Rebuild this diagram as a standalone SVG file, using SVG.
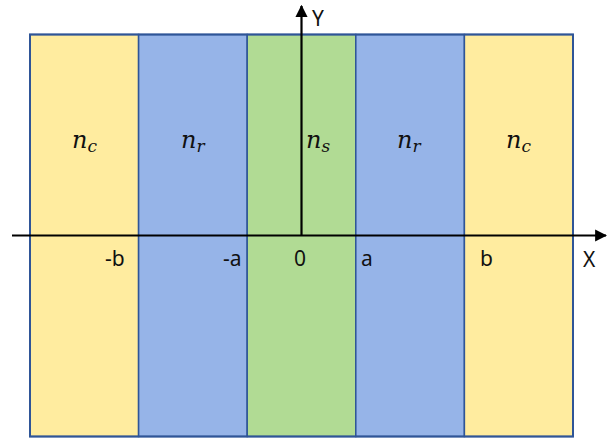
<svg xmlns="http://www.w3.org/2000/svg" width="613" height="439" viewBox="0 0 613 439">
<defs>
<style>
.band{stroke:#2F5597;stroke-width:1.5}
.yel{fill:#FFEC9F}
.blu{fill:#96B4E8}
.grn{fill:#B1DB94}
.ax{stroke:#000;stroke-width:2.2;fill:none}
.lbl{font-family:"Noto Sans","Liberation Sans",sans-serif;font-size:21px;fill:#111}
.n{font-family:"DejaVu Serif","Liberation Serif",serif;font-style:italic;font-size:24px;fill:#111}
.sub{font-size:17px}
</style>
<marker id="ah" viewBox="0 0 10 10" refX="9" refY="5" markerWidth="5.5" markerHeight="5.5" orient="auto" markerUnits="strokeWidth">
<path d="M0,0 L10,5 L0,10 z" fill="#000"/>
</marker>
</defs>
<g id="band-nc-left"><rect class="band yel" x="30" y="34.5" width="108.6" height="402"/><text class="n" x="72" y="148">n<tspan class="sub" dy="4">c</tspan></text></g>
<g id="band-nr-left"><rect class="band blu" x="138.6" y="34.5" width="108.6" height="402"/><text class="n" x="181" y="148">n<tspan class="sub" dy="4">r</tspan></text></g>
<g id="band-ns"><rect class="band grn" x="247.2" y="34.5" width="108.6" height="402"/><text class="n" x="306" y="148">n<tspan class="sub" dy="4">s</tspan></text></g>
<g id="band-nr-right"><rect class="band blu" x="355.8" y="34.5" width="108.6" height="402"/><text class="n" x="397" y="148">n<tspan class="sub" dy="4">r</tspan></text></g>
<g id="band-nc-right"><rect class="band yel" x="464.4" y="34.5" width="108.6" height="402"/><text class="n" x="506" y="148">n<tspan class="sub" dy="4">c</tspan></text></g>
<rect x="30" y="34.5" width="543" height="402" fill="none" stroke="#2F5597" stroke-width="2"/>
<g id="connectors">
<line class="ax" x1="12" y1="235.5" x2="606" y2="235.5" marker-end="url(#ah)"/>
<line class="ax" x1="301.5" y1="235.5" x2="301.5" y2="6" marker-end="url(#ah)"/>
</g>
<g id="labels">
<text class="lbl" x="312" y="26">Y</text>
<text class="lbl" x="583" y="267">X</text>
<text class="lbl" x="105" y="266">-b</text>
<text class="lbl" x="223" y="266">-a</text>
<text class="lbl" x="294" y="266">0</text>
<text class="lbl" x="361" y="266">a</text>
<text class="lbl" x="480" y="266">b</text>
</g>
</svg>
